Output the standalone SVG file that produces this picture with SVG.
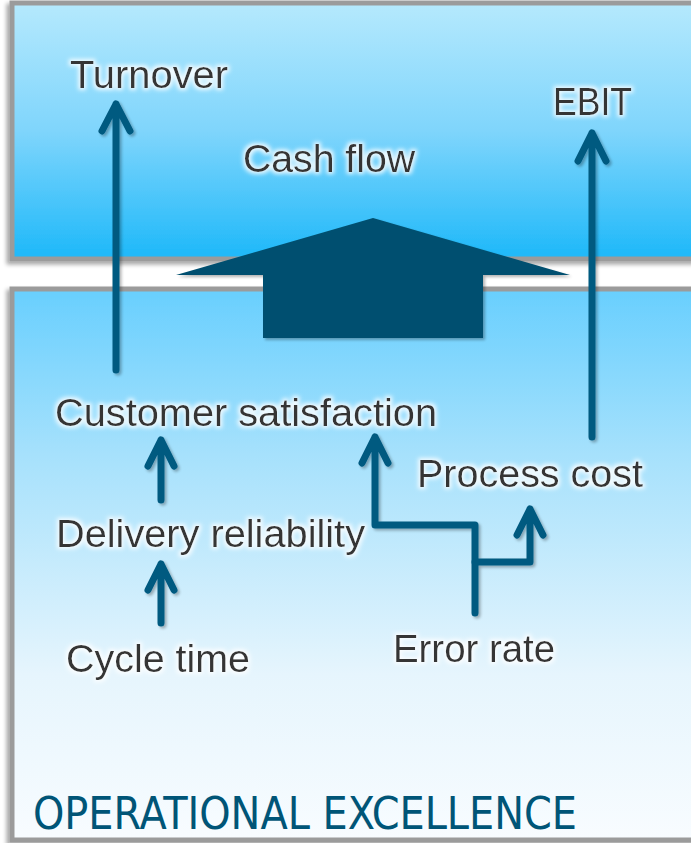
<svg xmlns="http://www.w3.org/2000/svg" width="691" height="843" viewBox="0 0 691 843">
<defs>
<linearGradient id="gTop" x1="0" y1="0" x2="0" y2="1">
<stop offset="0" stop-color="#b5e9fd"/>
<stop offset="0.5" stop-color="#7fd5fc"/>
<stop offset="1" stop-color="#1db8f9"/>
</linearGradient>
<linearGradient id="gBot" x1="0" y1="0" x2="0" y2="1">
<stop offset="0" stop-color="#68cffe"/>
<stop offset="0.3" stop-color="#a6e1fc"/>
<stop offset="0.7" stop-color="#e6f5fd"/>
<stop offset="1" stop-color="#f8fcff"/>
</linearGradient>
<filter id="shadow" x="-5%" y="-5%" width="110%" height="110%">
<feGaussianBlur in="SourceAlpha" stdDeviation="2"/>
<feOffset dx="-3" dy="3"/>
<feComponentTransfer><feFuncA type="linear" slope="0.35"/></feComponentTransfer>
<feMerge><feMergeNode/><feMergeNode in="SourceGraphic"/></feMerge>
</filter>
<filter id="ashadow" x="-20%" y="-20%" width="140%" height="140%">
<feGaussianBlur in="SourceAlpha" stdDeviation="1.5"/>
<feOffset dx="2" dy="2"/>
<feComponentTransfer><feFuncA type="linear" slope="0.3"/></feComponentTransfer>
<feMerge><feMergeNode/><feMergeNode in="SourceGraphic"/></feMerge>
</filter>
<filter id="glow" x="-10%" y="-30%" width="120%" height="160%">
<feMorphology in="SourceAlpha" operator="dilate" radius="2" result="d"/>
<feGaussianBlur in="d" stdDeviation="2" result="b"/>
<feFlood flood-color="#ffffff" flood-opacity="0.85"/>
<feComposite in2="b" operator="in" result="g"/>
<feMerge><feMergeNode in="g"/><feMergeNode in="SourceGraphic"/></feMerge>
</filter>
</defs>
<style>
.panel{stroke:#9b9b9b;stroke-width:5}
.lbl{font-family:"Liberation Sans",Arial,sans-serif;font-size:38px;fill:#353535}
.title{font-family:"DejaVu Sans Condensed","DejaVu Sans",sans-serif;font-size:45px;fill:#005577}
.conn{fill:none;stroke:#005a80;stroke-width:7;stroke-linecap:round;stroke-linejoin:round}
</style>
<rect width="691" height="843" fill="#ffffff"/>
<g id="panel-top" filter="url(#shadow)">
<rect class="panel" x="12" y="3" width="690" height="256" fill="url(#gTop)"/>
</g>
<g id="panel-bottom" filter="url(#shadow)">
<rect class="panel" x="12" y="289" width="690" height="551" fill="url(#gBot)"/>
</g>
<g id="big-arrow" filter="url(#ashadow)">
<polygon points="373,218 570,275 483,275 483,338 263,338 263,275 176,275" fill="#00506f"/>
</g>
<g id="connectors" filter="url(#ashadow)">
<path class="conn" d="M116,370 V104 M102,131 L116,104 L130,131"/>
<path class="conn" d="M592,437 V133 M578,161 L592,133 L606,161"/>
<path class="conn" d="M161,500 V440 M148,466 L161,440 L174,466"/>
<path class="conn" d="M161,623 V564 M148,590 L161,564 L174,590"/>
<path class="conn" d="M475,613 V525 H375 V437 M362,463 L375,437 L388,463"/>
<path class="conn" d="M475,562 H530 V509 M517,535 L530,509 L543,535"/>
</g>
<g id="turnover" filter="url(#glow)"><text class="lbl" x="70" y="88" textLength="158" lengthAdjust="spacingAndGlyphs">Turnover</text></g>
<g id="cash-flow" filter="url(#glow)"><text class="lbl" x="243" y="172" textLength="172" lengthAdjust="spacingAndGlyphs">Cash flow</text></g>
<g id="ebit" filter="url(#glow)"><text class="lbl" x="553" y="115" textLength="79" lengthAdjust="spacingAndGlyphs">EBIT</text></g>
<g id="customer-satisfaction" filter="url(#glow)"><text class="lbl" x="55" y="426" textLength="382" lengthAdjust="spacingAndGlyphs">Customer satisfaction</text></g>
<g id="process-cost" filter="url(#glow)"><text class="lbl" x="417" y="487" textLength="226" lengthAdjust="spacingAndGlyphs">Process cost</text></g>
<g id="delivery-reliability" filter="url(#glow)"><text class="lbl" x="56" y="547" textLength="309" lengthAdjust="spacingAndGlyphs">Delivery reliability</text></g>
<g id="error-rate" filter="url(#glow)"><text class="lbl" x="393" y="662" textLength="162" lengthAdjust="spacingAndGlyphs">Error rate</text></g>
<g id="cycle-time" filter="url(#glow)"><text class="lbl" x="66" y="672" textLength="184" lengthAdjust="spacingAndGlyphs">Cycle time</text></g>
<g id="title"><text class="title" x="33" y="829" textLength="544" lengthAdjust="spacingAndGlyphs">OPERATIONAL EXCELLENCE</text></g>
</svg>
